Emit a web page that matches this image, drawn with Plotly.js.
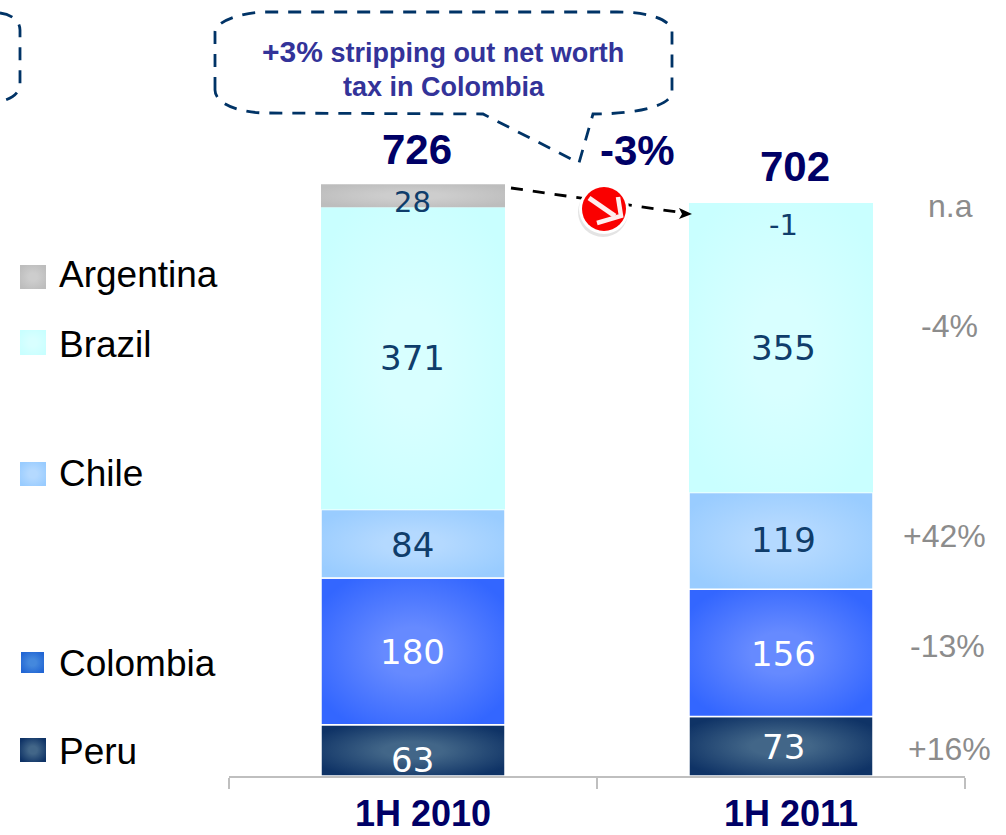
<!DOCTYPE html>
<html>
<head>
<meta charset="utf-8">
<script src="https://cdn.plot.ly/plotly-3.0.1.min.js"></script>
<style>html,body{margin:0;padding:0;background:#fff;overflow:hidden}</style>
</head>
<body>
<div id="chart" style="width:1006px;height:835px"></div>
<script>
const categories = ['1H 2010', '1H 2011'];
const argentina = [28, -1];
const brazil = [371, 355];
const chile = [84, 119];
const colombia = [180, 156];
const peru = [63, 73];
const totals = [726, 702];
const changeLabels = ['n.a', '-4%', '+42%', '-13%', '+16%'];
const legendNames = ['Argentina', 'Brazil', 'Chile', 'Colombia', 'Peru'];
const overallChange = '-3%';

const AX_L = 229, AX_R = 965, AX_B = 776;
const X = p => (p - AX_L) / (AX_R - AX_L);
const Y = p => (AX_B - p) / AX_B;
const pt = (x, y) => X(x).toFixed(5) + ',' + Y(y).toFixed(5);
const yMax = AX_B / 0.815;

function pathOf(cmds) {
  return cmds.map(c => c[0] + c.slice(1).map(q => pt(q[0], q[1])).join(' ')).join(' ');
}

const palette = {
  '#bdbdbd': '#cdcdcd',
  '#c9ffff': '#d8ffff',
  '#99ccff': '#b4d9ff',
  '#3366ff': '#668aff',
  '#0f3366': '#426688',
  '#2266d4': '#4488dd'
};

function bar(name, values, color, lw) {
  return {
    type: 'bar', name: name, x: categories, y: values,
    marker: {color: color, line: {color: '#ffffff', width: lw}},
    hoverinfo: 'none'
  };
}
const data = [
  bar('Peru', peru, '#0f3366', 1.5),
  bar('Colombia', colombia, '#3366ff', 1.5),
  bar('Chile', chile, '#99ccff', 1.5),
  bar('Brazil', brazil, '#c9ffff', 0),
  bar('Argentina', argentina, '#bdbdbd', 0)
];

const annotations = [];
function txt(px, py, text, size, color, opts) {
  annotations.push(Object.assign({
    xref: 'paper', yref: 'paper', x: X(px), y: Y(py), text: text, showarrow: false,
    xanchor: 'center', yanchor: 'middle',
    font: Object.assign({family: 'Liberation Sans, Arial, sans-serif', size: size, color: color}, (opts && opts.font) || {})
  }, opts && opts.anchor ? {xanchor: opts.anchor} : {}));
}
const BOLD = {font: {weight: 700}};
const LBL = {font: {family: 'DejaVu Sans, sans-serif'}};
const DARK = '#0f3d6b';

const labelSpots = [
  [argentina, 202, 225, DARK, 29],
  [brazil, 358, 348, DARK, 34],
  [chile, 545, 540, DARK, 34],
  [colombia, 652, 654, '#ffffff', 34],
  [peru, 760, 747, '#ffffff', 34]
];
labelSpots.forEach(s => {
  txt(412, s[1], String(s[0][0]), s[4], s[3], LBL);
  txt(783, s[2], String(s[0][1]), s[4], s[3], LBL);
});

txt(417, 150, String(totals[0]), 42, '#000066', BOLD);
txt(795, 166, String(totals[1]), 42, '#000066', BOLD);
txt(637, 151, overallChange, 42, '#000066', BOLD);

[[950, 206], [949, 326], [944, 536], [947, 646], [949, 749]].forEach((p, i) => {
  txt(p[0], p[1], changeLabels[i], 32, '#8c8c8c');
});

[275, 344, 473, 663, 751].forEach((py, i) => {
  txt(57, py, legendNames[i], 37, '#000000', {anchor: 'left'});
});

txt(443, 52, '<span style="font-size:30px">+3%</span> stripping out net worth', 27, '#333399', BOLD);
txt(444, 87, 'tax in Colombia', 27, '#333399', BOLD);

const dashLine = {color: '#003366', width: 2.8, dash: '13px,10px'};
const shapes = [];
function addPath(path, line, fill) {
  shapes.push({type: 'path', xref: 'paper', yref: 'paper', path: path, line: line, fillcolor: fill || 'rgba(0,0,0,0)', layer: 'above'});
}

addPath(pathOf([
  ['M', [215, 90]], ['L', [215, 32]],
  ['C', [215, 22], [240, 12], [267, 12]],
  ['L', [617, 12]],
  ['C', [650, 12], [672, 20], [672, 32]],
  ['L', [672, 92]],
  ['C', [672, 105], [640, 114], [593, 114]],
  ['L', [579, 163]], ['L', [483, 114]], ['L', [267, 113]],
  ['C', [240, 113], [215, 104], [215, 90]], ['Z']
]), dashLine);

addPath(pathOf([
  ['M', [0, 13]], ['C', [10, 14], [20, 20], [20, 30]],
  ['L', [20, 84]],
  ['C', [20, 94], [10, 99], [0, 102]]
]), dashLine);

addPath(pathOf([['M', [511, 188]], ['L', [684, 213]]]), {color: '#000000', width: 2.8, dash: '12px,10px'});
addPath(pathOf([['M', [692, 214]], ['L', [679, 208]], ['L', [682, 214]], ['L', [679, 219]], ['Z']]), {width: 0}, '#000000');

function circle(cx, cy, r, fill) {
  shapes.push({type: 'circle', xref: 'paper', yref: 'paper', x0: X(cx - r), x1: X(cx + r), y0: Y(cy + r), y1: Y(cy - r),
    fillcolor: fill, line: {width: 0}, layer: 'above'});
}
circle(603, 212, 25, '#e4e4e4');
circle(604, 209, 25, '#ffffff');
circle(604, 209, 22, '#fa0000');
addPath(pathOf([['M', [589, 198]], ['L', [615, 216]]]), {color: '#ffeeee', width: 5});
addPath(pathOf([['M', [618, 197]], ['L', [621, 216]], ['L', [597, 223]]]), {color: '#ffeeee', width: 4.5});

[[20, 46, 265, 289, '#bdbdbd'], [20, 46, 330, 355, '#c9ffff'], [20, 46, 462, 486, '#99ccff'],
 [21, 44, 652, 673, '#2266d4'], [20, 46, 738, 762, '#0f3366']].forEach(s => {
  shapes.push({type: 'rect', xref: 'paper', yref: 'paper', x0: X(s[0]), x1: X(s[1]), y0: Y(s[3]), y1: Y(s[2]),
    fillcolor: s[4], line: {width: 0}, layer: 'above'});
});

const layout = {
  width: 1006, height: 835,
  margin: {l: AX_L, r: 1006 - AX_R, t: 0, b: 835 - AX_B, pad: 0},
  paper_bgcolor: '#ffffff', plot_bgcolor: '#ffffff',
  barmode: 'relative', bargap: 0.5, showlegend: false,
  xaxis: {
    type: 'category', range: [-0.5, 1.5], tickson: 'boundaries', ticks: 'outside', ticklen: 11, tickwidth: 1.5,
    tickcolor: '#bfbfbf', showline: true, linecolor: '#bfbfbf', linewidth: 2, showgrid: false, zeroline: false,
    ticklabelshift: 10, ticklabelstandoff: 5,
    tickfont: {family: 'Liberation Sans, Arial, sans-serif', size: 36, color: '#000066', weight: 700}, fixedrange: true
  },
  yaxis: {range: [0, yMax], visible: false, showgrid: false, zeroline: false, fixedrange: true},
  annotations: annotations, shapes: shapes, hovermode: false
};

const gd = document.getElementById('chart');

function applyStyling() {
  const svg = gd.querySelector('svg.main-svg');
  if (!svg) return;
  const NS = 'http://www.w3.org/2000/svg';
  let defs = svg.querySelector('#grad-defs');
  if (!defs) {
    defs = document.createElementNS(NS, 'defs');
    defs.id = 'grad-defs';
    Object.keys(palette).forEach(edge => {
      const g = document.createElementNS(NS, 'radialGradient');
      g.id = 'g' + edge.slice(1);
      g.setAttribute('cx', '0.5'); g.setAttribute('cy', '0.5'); g.setAttribute('r', '0.65');
      [[0, palette[edge]], [0.25, palette[edge]], [0.92, edge]].forEach(st => {
        const s = document.createElementNS(NS, 'stop');
        s.setAttribute('offset', st[0]); s.setAttribute('stop-color', st[1]);
        g.appendChild(s);
      });
      defs.appendChild(g);
    });
    svg.insertBefore(defs, svg.firstChild);
  }
  const toRgb = h => 'rgb(' + parseInt(h.slice(1, 3), 16) + ', ' + parseInt(h.slice(3, 5), 16) + ', ' + parseInt(h.slice(5, 7), 16) + ')';
  const map = {};
  Object.keys(palette).forEach(e => map[toRgb(e)] = 'url(#g' + e.slice(1) + ')');
  gd.querySelectorAll('.barlayer .point path, .shapelayer path').forEach(p => {
    const f = p.style.fill;
    if (map[f]) p.style.fill = map[f];
  });
}

Plotly.newPlot(gd, data, layout, {displayModeBar: false, staticPlot: true}).then(applyStyling);
</script>
</body>
</html>
